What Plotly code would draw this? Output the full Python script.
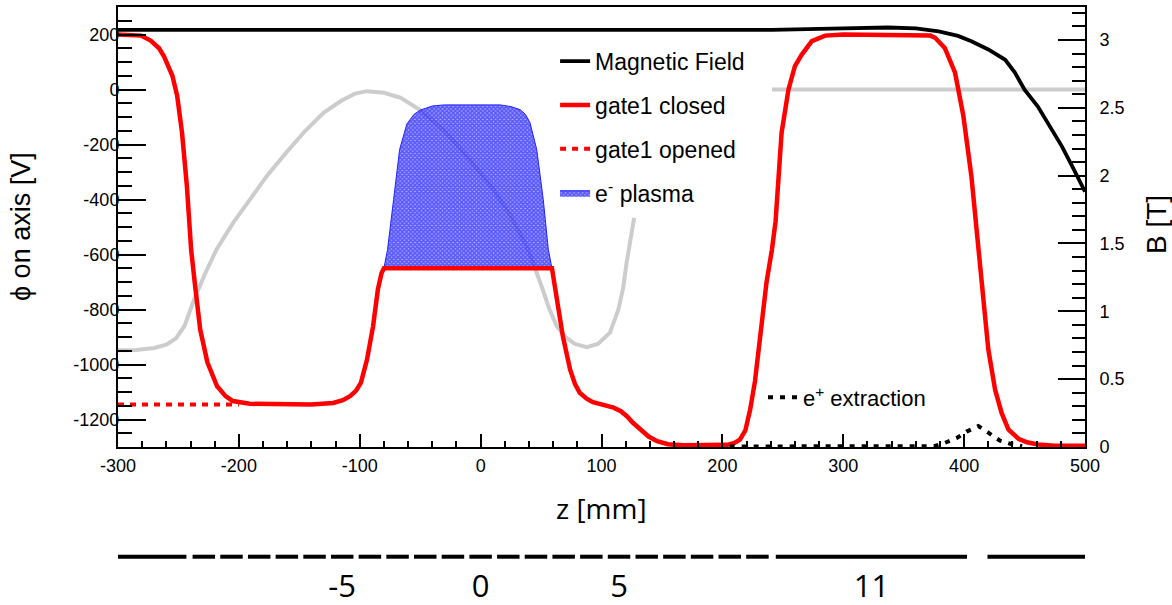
import plotly.graph_objects as go

# ---------------- data ----------------
# Magnetic field on axis (right axis, Tesla)
z_B = [-300, -200, -100, 0, 100, 200, 241, 300, 337, 360, 379, 395, 406, 420, 434, 442, 450, 461, 470, 481, 490, 500]
B_T = [3.075, 3.075, 3.075, 3.075, 3.075, 3.075, 3.075, 3.085, 3.092, 3.085, 3.063, 3.03, 2.99, 2.93, 2.854, 2.76, 2.633, 2.509, 2.38, 2.214, 2.06, 1.882]

# gate1 closed potential (left axis, V)
z_closed = [-300, -290, -281, -273, -266, -262, -258, -255, -251, -247, -243, -239.5, -236.5, -232, -226, -218, -211,
            -205, -191, -170, -140, -122, -114, -108, -103, -99, -94, -89, -85, -82, -80, 59, 61, 63, 68, 74, 78,
            82, 88, 93, 101, 110, 116, 121, 126, 132, 139, 146, 155, 168, 190, 204, 210, 214.5, 219, 223, 227,
            231, 236.5, 241, 244, 249, 254.7, 260, 265.7, 274, 285, 300, 365, 372, 376, 384, 392.5, 399.4, 406,
            412, 414.6, 420, 425.6, 431, 436.6, 445, 452, 461, 475, 500]
V_closed = [200, 199, 196, 178, 150, 121, 85, 50, -24, -158, -352, -582, -703, -873, -993, -1079, -1115,
            -1133, -1143, -1145, -1145, -1140, -1130, -1115, -1095, -1066, -982, -861, -727, -668, -650, -650, -700, -764, -897, -1018, -1070,
            -1103, -1125, -1137, -1148, -1157, -1170, -1188, -1212, -1236, -1262, -1279, -1290, -1294, -1295, -1292, -1285, -1273, -1240, -1164, -1060,
            -920, -702, -582, -480, -157, 0, 85, 127, 176, 196, 200, 200, 196, 188, 151, 61, -97, -315,
            -582, -703, -945, -1091, -1176, -1236, -1270, -1283, -1291, -1295, -1295]

# gate1 opened potential (differs only at the left end)
z_opened = [-300, -200]
V_opened = [-1145, -1145]

# electron plasma top boundary (bottom is the -650 V plateau)
z_plasma = [-80, -77, -72, -67, -61, -55, -50, -40, -30, 0, 16, 25, 32.6, 37, 40.8, 46.4, 51.8, 56, 59]
V_plasma = [-650, -582, -400, -218, -125, -90, -75, -60, -56, -55, -56, -62, -73, -90, -120, -218, -400, -582, -650]

# grey reference curves
z_grey_a = [-300, -285, -270, -260, -252, -245, -237, -228, -218.5, -204.6, -190, -177, -160, -145, -130, -115, -104, -94,
            -80, -66, -50, -30, -10, 10, 25, 39.4, 50, 57, 63, 70, 78, 87.7, 97, 107, 114, 118, 120.8, 124, 127]
V_grey_a = [-948, -947, -940, -928, -905, -860, -764, -670, -582, -484, -395, -315, -225, -150, -85, -40, -15, -6,
            -12, -30, -75, -150, -250, -360, -460, -582, -710, -800, -861, -900, -925, -937, -925, -884, -800, -720, -629, -545, -467]
z_grey_b = [241, 500]
V_grey_b = [0, 0]

# e+ extraction profile
z_extr = [206, 375, 384, 394, 402, 411.8, 420, 429.7, 439.4, 448]
V_extr = [-1298, -1297, -1285, -1267, -1244, -1224, -1248, -1277, -1290, -1297]

# electrode stack (z extent in mm) and electrode numbers
elec_start = [-300.0, -238.3, -215.4, -192.5, -169.6, -146.7, -123.8, -100.9, -78.0, -55.1, -32.2, -9.3, 13.6,
              36.5, 59.4, 82.3, 105.2, 128.1, 151.0, 173.9, 196.8, 219.7, 244.2, 419.3]
elec_end = [-243.4, -219.7, -196.8, -173.9, -151.0, -128.1, -105.2, -82.3, -59.4, -36.5, -13.6, 9.3, 32.2,
            55.1, 78.0, 100.9, 123.8, 146.7, 169.6, 192.5, 215.4, 238.3, 402.4, 500.0]
elec_label_z = [-114.5, 0, 114.5, 323.3]
elec_labels = ["-5", "0", "5", "11"]

# tick labels
x_tickvals = [-300, -200, -100, 0, 100, 200, 300, 400, 500]
x_ticktext = ["-300", "-200", "-100", "0", "100", "200", "300", "400", "500"]
y_tickvals = [-1200, -1000, -800, -600, -400, -200, 0, 200]
y_ticktext = ["-1200", "-1000", "-800", "-600", "-400", "-200", "0", "200"]
y2_tickvals = [0, 0.5, 1, 1.5, 2, 2.5, 3]
y2_ticktext = ["0", "0.5", "1", "1.5", "2", "2.5", "3"]

# right-axis labels are drawn flush left (pad short labels to the width of "2.5")
NBSP = "\u00a0"
y2_ticktext_padded = [t if "." in t else t + NBSP * 3 for t in y2_ticktext]

# ---------------- figure ----------------
fig = go.Figure()

fig.add_trace(go.Scatter(x=z_grey_a, y=V_grey_a, mode="lines", line=dict(color="#cccccc", width=4),
                         showlegend=False, hoverinfo="skip"))
fig.add_trace(go.Scatter(x=z_grey_b, y=V_grey_b, mode="lines", line=dict(color="#cccccc", width=4),
                         showlegend=False, hoverinfo="skip"))

fig.add_trace(go.Scatter(x=z_plasma, y=V_plasma, mode="lines", fill="toself", name="e<sup>-</sup> plasma",
                         line=dict(color="#2020ff", width=1),
                         fillcolor="rgba(0,0,255,0)",
                         fillpattern=dict(shape="x", fgcolor="#0000ff", bgcolor="rgba(120,120,255,0.55)",
                                          size=3, solidity=0.8),
                         legendgroup="d", legendrank=4))

fig.add_trace(go.Scatter(x=z_opened, y=V_opened, mode="lines", name="gate1 opened",
                         line=dict(color="#ff0000", width=4, dash="6px,6px"),
                         legendgroup="c", legendrank=3))
fig.add_trace(go.Scatter(x=z_closed, y=V_closed, mode="lines", name="gate1 closed",
                         line=dict(color="#ff0000", width=4.5),
                         legendgroup="b", legendrank=2))

fig.add_trace(go.Scatter(x=z_extr, y=V_extr, mode="lines", name="e<sup>+</sup> extraction",
                         line=dict(color="black", width=4, dash="5px,7px"), legend="legend2"))

fig.add_trace(go.Scatter(x=z_B, y=B_T, mode="lines", name="Magnetic Field", yaxis="y2",
                         line=dict(color="black", width=3.8), legendgroup="a", legendrank=1))

# electrode stack below the axis
ex, ey = [], []
for s, e in zip(elec_start, elec_end):
    ex += [s, e, None]
    ey += [0.365, 0.365, None]
fig.add_trace(go.Scatter(x=ex, y=ey, mode="lines", line=dict(color="black", width=4),
                         xaxis="x2", yaxis="y3", showlegend=False, hoverinfo="skip"))
fig.add_trace(go.Scatter(x=elec_label_z, y=[0.09] * len(elec_label_z), mode="text", text=elec_labels,
                         textfont=dict(family="Open Sans", size=31, color="black"),
                         xaxis="x2", yaxis="y3", showlegend=False, hoverinfo="skip", cliponaxis=False))

tickfont = dict(family="Liberation Sans", size=18, color="black")

fig.update_layout(
    width=1172, height=605,
    margin=dict(l=118, r=87, t=7, b=5),
    paper_bgcolor="white", plot_bgcolor="white",
    font=dict(family="Liberation Sans", color="black"),
    xaxis=dict(domain=[0, 1], anchor="y", range=[-300, 500], tickvals=x_tickvals, ticktext=x_ticktext,
               ticks="inside", ticklen=13, tickwidth=1.5, tickcolor="black",
               minor=dict(dtick=20, tick0=-300, ticks="inside", ticklen=6, tickwidth=1.5, tickcolor="black"),
               showline=True, linewidth=2, linecolor="black", mirror=True,
               showgrid=False, zeroline=False, tickfont=tickfont,
               ticklabelposition="outside", ticklabelstandoff=1,
               automargin=False),
    yaxis=dict(domain=[0.258, 1], anchor="x", range=[-1300, 300], tickvals=y_tickvals, ticktext=y_ticktext,
               ticks="inside", ticklen=28, tickwidth=1.5, tickcolor="black",
               minor=dict(dtick=50, tick0=0, ticks="inside", ticklen=14, tickwidth=1.5, tickcolor="black"),
               showline=True, linewidth=2, linecolor="black",
               showgrid=False, zeroline=False, tickfont=tickfont,
               ticklabelposition="outside", ticklabelstandoff=-7,
               automargin=False),
    yaxis2=dict(overlaying="y", side="right", anchor="x", range=[0, 3.243], tickvals=y2_tickvals,
                ticktext=y2_ticktext_padded,
                ticks="inside", ticklen=27, tickwidth=1.5, tickcolor="black",
                minor=dict(dtick=0.1, tick0=0, ticks="inside", ticklen=13, tickwidth=1.5, tickcolor="black"),
                showline=True, linewidth=2, linecolor="black",
                showgrid=False, zeroline=False, tickfont=tickfont,
                ticklabelposition="outside", ticklabelstandoff=9,
                automargin=False),
    xaxis2=dict(domain=[0, 1], anchor="y3", matches="x", visible=False),
    yaxis3=dict(domain=[0, 0.2], range=[0, 1], visible=False, fixedrange=True),
    legend=dict(x=0.452, y=0.945, xanchor="left", yanchor="top", bgcolor="rgba(0,0,0,0)",
                font=dict(family="Liberation Sans", size=23, color="black"), tracegroupgap=11,
                itemwidth=30, traceorder="grouped"),
    legend2=dict(x=0.667, y=0.377, xanchor="left", yanchor="top", bgcolor="rgba(0,0,0,0)",
                 font=dict(family="Liberation Sans", size=22, color="black"), itemwidth=30),
    annotations=[
        dict(text="z [mm]", xref="paper", yref="paper", x=0.5005, y=0.155, xanchor="center", yanchor="middle",
             showarrow=False, font=dict(family="Open Sans", size=28, color="black")),
        dict(text="ϕ on axis [V]", xref="paper", yref="paper", x=-0.1003, y=0.629, xanchor="center",
             yanchor="middle", textangle=-90, showarrow=False,
             font=dict(family="Liberation Sans", size=27, color="black")),
        dict(text="B [T]", xref="paper", yref="paper", x=1.0734, y=0.634, xanchor="center",
             yanchor="middle", textangle=-90, showarrow=False,
             font=dict(family="Liberation Sans", size=28, color="black")),
    ],
)

fig.write_html(
    "out.html",
    config={"displayModeBar": False},
    post_script="document.body.style.margin='0px';document.body.style.overflow='hidden';"
                "document.documentElement.style.overflow='hidden';",
)
